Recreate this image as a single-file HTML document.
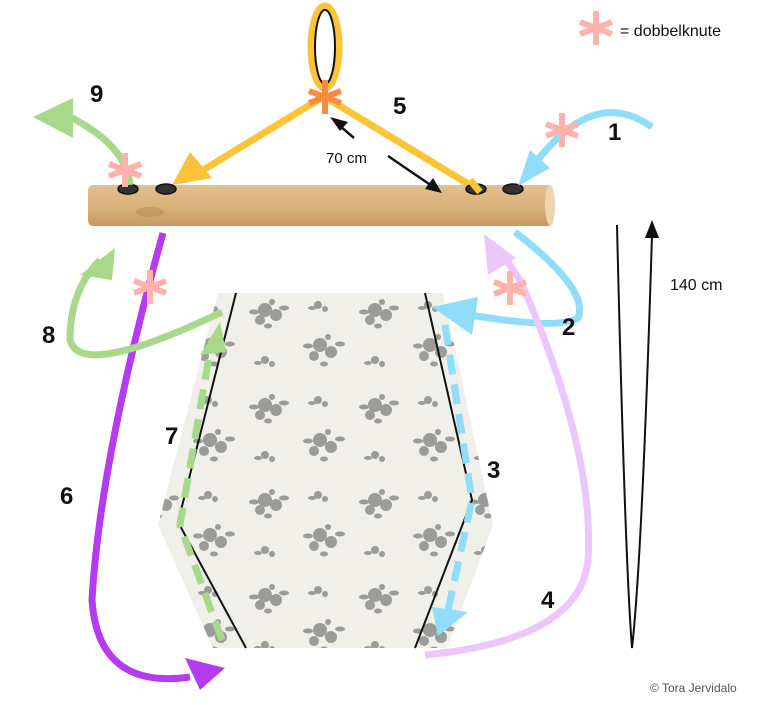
<!DOCTYPE html>
<html><head><meta charset="utf-8"><style>
html,body{margin:0;padding:0;background:#fff;}
svg{display:block;font-family:"Liberation Sans",sans-serif;}
</style></head><body>
<svg width="768" height="705" viewBox="0 0 768 705" xmlns="http://www.w3.org/2000/svg">
<defs>
<linearGradient id="wood" x1="0" y1="0" x2="0" y2="1">
<stop offset="0" stop-color="#e3c08f"/><stop offset="0.5" stop-color="#d9b27c"/><stop offset="1" stop-color="#c79a61"/>
</linearGradient>
<pattern id="roses" width="110" height="95" patternUnits="userSpaceOnUse" x="20" y="290">
<rect width="110" height="95" fill="#f0efe9"/>
<g fill="#777" opacity="0.7">
<circle cx="25" cy="20" r="7"/><circle cx="36" cy="25" r="6"/><circle cx="20" cy="30" r="5"/><circle cx="32" cy="12" r="3"/>
<ellipse cx="14" cy="22" rx="5" ry="2.5"/><ellipse cx="44" cy="18" rx="5" ry="2.5"/><ellipse cx="28" cy="36" rx="4" ry="2.5"/>
<circle cx="80" cy="55" r="7"/><circle cx="91" cy="62" r="6"/><circle cx="74" cy="66" r="5"/><circle cx="88" cy="47" r="3"/>
<ellipse cx="68" cy="56" rx="5" ry="2.5"/><ellipse cx="100" cy="54" rx="5" ry="2.5"/><ellipse cx="84" cy="74" rx="4" ry="2.5"/>
<circle cx="78" cy="15" r="4"/><circle cx="85" cy="19" r="3"/><ellipse cx="72" cy="18" rx="4" ry="2"/>
<circle cx="25" cy="70" r="4"/><circle cx="32" cy="74" r="3"/><ellipse cx="18" cy="73" rx="4" ry="2"/>
</g>
</pattern>
</defs>

<!-- fabric -->
<polygon points="218,293 443,293 493,525 447,648 213,648 158,525" fill="url(#roses)"/>
<polyline points="236,293 178,522 246,648" fill="none" stroke="#111" stroke-width="2"/>
<polyline points="425,293 472,500 415,648" fill="none" stroke="#111" stroke-width="2"/>

<!-- dashed 7 green -->
<path d="M222,640 L180,525 L212,340" fill="none" stroke="#a8d98a" stroke-width="7" stroke-dasharray="20,10"/>
<polygon points="200,355 226,352 220,322" fill="#a8d98a"/>
<!-- dashed 3 blue -->
<path d="M445,325 L472,500 L447,615" fill="none" stroke="#8fdcfb" stroke-width="7" stroke-dasharray="20,10"/>
<polygon points="432,607 468,612 438,636" fill="#8fdcfb"/>

<!-- loop -->
<ellipse cx="325" cy="47" rx="14" ry="41" fill="none" stroke="#fbc337" stroke-width="7"/>
<ellipse cx="325" cy="47" rx="10" ry="37" fill="none" stroke="#111" stroke-width="2"/>
<!-- yellow 5 -->
<line x1="318" y1="100" x2="200" y2="172" stroke="#fbc337" stroke-width="7"/>
<polygon points="172,185 190,152 212,178" fill="#fbc337"/>
<line x1="330" y1="100" x2="478" y2="190" stroke="#fbc337" stroke-width="7"/>

<!-- dowel -->
<rect x="88" y="185" width="465" height="41" rx="5" fill="url(#wood)"/>
<ellipse cx="550" cy="205" rx="5" ry="20" fill="#ecd5b0"/>
<ellipse cx="150" cy="212" rx="14" ry="5" fill="#b88a56" opacity="0.5"/>
<g fill="#333" stroke="#111" stroke-width="1.5">
<ellipse cx="128" cy="189" rx="10" ry="5"/><ellipse cx="166" cy="189" rx="10" ry="5"/>
<ellipse cx="476" cy="189" rx="10" ry="5"/><ellipse cx="513" cy="189" rx="10" ry="5"/>
</g>
<line x1="470" y1="180" x2="480" y2="192" stroke="#fbc337" stroke-width="7"/>

<!-- 70cm arrows -->
<line x1="354" y1="138" x2="340" y2="126" stroke="#111" stroke-width="2.5"/>
<polygon points="330,117 348,122 340,131" fill="#111"/>
<line x1="388" y1="156" x2="432" y2="186" stroke="#111" stroke-width="2.5"/>
<polygon points="442,193 425,189 433,178" fill="#111"/>
<text x="326" y="163" font-size="15" fill="#111">70 cm</text>

<!-- star at top knot -->
<g stroke="#ff8a3d" stroke-width="6" stroke-linecap="butt" transform="translate(325,97)">
<line x1="0" y1="-17" x2="0" y2="17"/><line x1="-16" y1="-6" x2="16" y2="6"/><line x1="-16" y1="6" x2="16" y2="-6"/>
</g>

<!-- blue 1 -->
<path d="M652,127 Q600,90 548,148" fill="none" stroke="#8fdcfb" stroke-width="7"/>
<polygon points="518,186 530,150 550,168" fill="#8fdcfb"/>
<line x1="548" y1="148" x2="530" y2="168" stroke="#8fdcfb" stroke-width="7"/>
<!-- blue 2 -->
<path d="M515,232 Q590,290 578,318 Q560,330 470,315" fill="none" stroke="#8fdcfb" stroke-width="7"/>
<polygon points="432,307 478,297 472,335" fill="#8fdcfb"/>
<!-- pink 4 -->
<path d="M425,655 Q580,640 588,560 Q595,450 520,280 L505,258" fill="none" stroke="#edc7fb" stroke-width="7"/>
<polygon points="484,234 516,258 488,275" fill="#edc7fb"/>
<!-- purple 6 -->
<path d="M163,233 Q100,460 92,600 Q98,690 190,677" fill="none" stroke="#b53af0" stroke-width="7"/>
<polygon points="225,668 185,658 200,690" fill="#b53af0"/>
<!-- green 8 -->
<path d="M222,312 Q80,380 70,340 Q70,290 100,260" fill="none" stroke="#a8d98a" stroke-width="7"/>
<polygon points="115,248 80,275 112,280" fill="#a8d98a"/>
<!-- green 9 -->
<path d="M130,185 Q126,145 70,117" fill="none" stroke="#a8d98a" stroke-width="7"/>
<polygon points="33,117 73,98 73,138" fill="#a8d98a"/>

<!-- pink stars -->
<g stroke="#ffb1ab" stroke-width="6">
<g transform="translate(125,170)"><line x1="0" y1="-17" x2="0" y2="17"/><line x1="-16" y1="-6" x2="16" y2="6"/><line x1="-16" y1="6" x2="16" y2="-6"/></g>
<g transform="translate(562,130)"><line x1="0" y1="-17" x2="0" y2="17"/><line x1="-16" y1="-6" x2="16" y2="6"/><line x1="-16" y1="6" x2="16" y2="-6"/></g>
<g transform="translate(150,287)"><line x1="0" y1="-17" x2="0" y2="17"/><line x1="-16" y1="-6" x2="16" y2="6"/><line x1="-16" y1="6" x2="16" y2="-6"/></g>
<g transform="translate(510,288)"><line x1="0" y1="-17" x2="0" y2="17"/><line x1="-16" y1="-6" x2="16" y2="6"/><line x1="-16" y1="6" x2="16" y2="-6"/></g>
<g transform="translate(596,28)"><line x1="0" y1="-17" x2="0" y2="17"/><line x1="-16" y1="-6" x2="16" y2="6"/><line x1="-16" y1="6" x2="16" y2="-6"/></g>
</g>
<text x="620" y="36" font-size="16" fill="#111">= dobbelknute</text>

<!-- 140 cm -->
<path d="M617,225 Q625,560 632,648 Q642,560 652,235" fill="none" stroke="#111" stroke-width="2"/>
<polygon points="652,220 645,238 659,238" fill="#111"/>
<text x="670" y="290" font-size="16" fill="#111">140 cm</text>

<!-- numbers -->
<g font-size="24" font-weight="bold" fill="#111">
<text x="90" y="102">9</text><text x="393" y="114">5</text><text x="608" y="140">1</text>
<text x="562" y="335">2</text><text x="487" y="478">3</text><text x="541" y="608">4</text>
<text x="60" y="504">6</text><text x="165" y="444">7</text><text x="42" y="343">8</text>
</g>
<text x="650" y="692" font-size="12" fill="#555">© Tora Jervidalo</text>
</svg>
</body></html>
